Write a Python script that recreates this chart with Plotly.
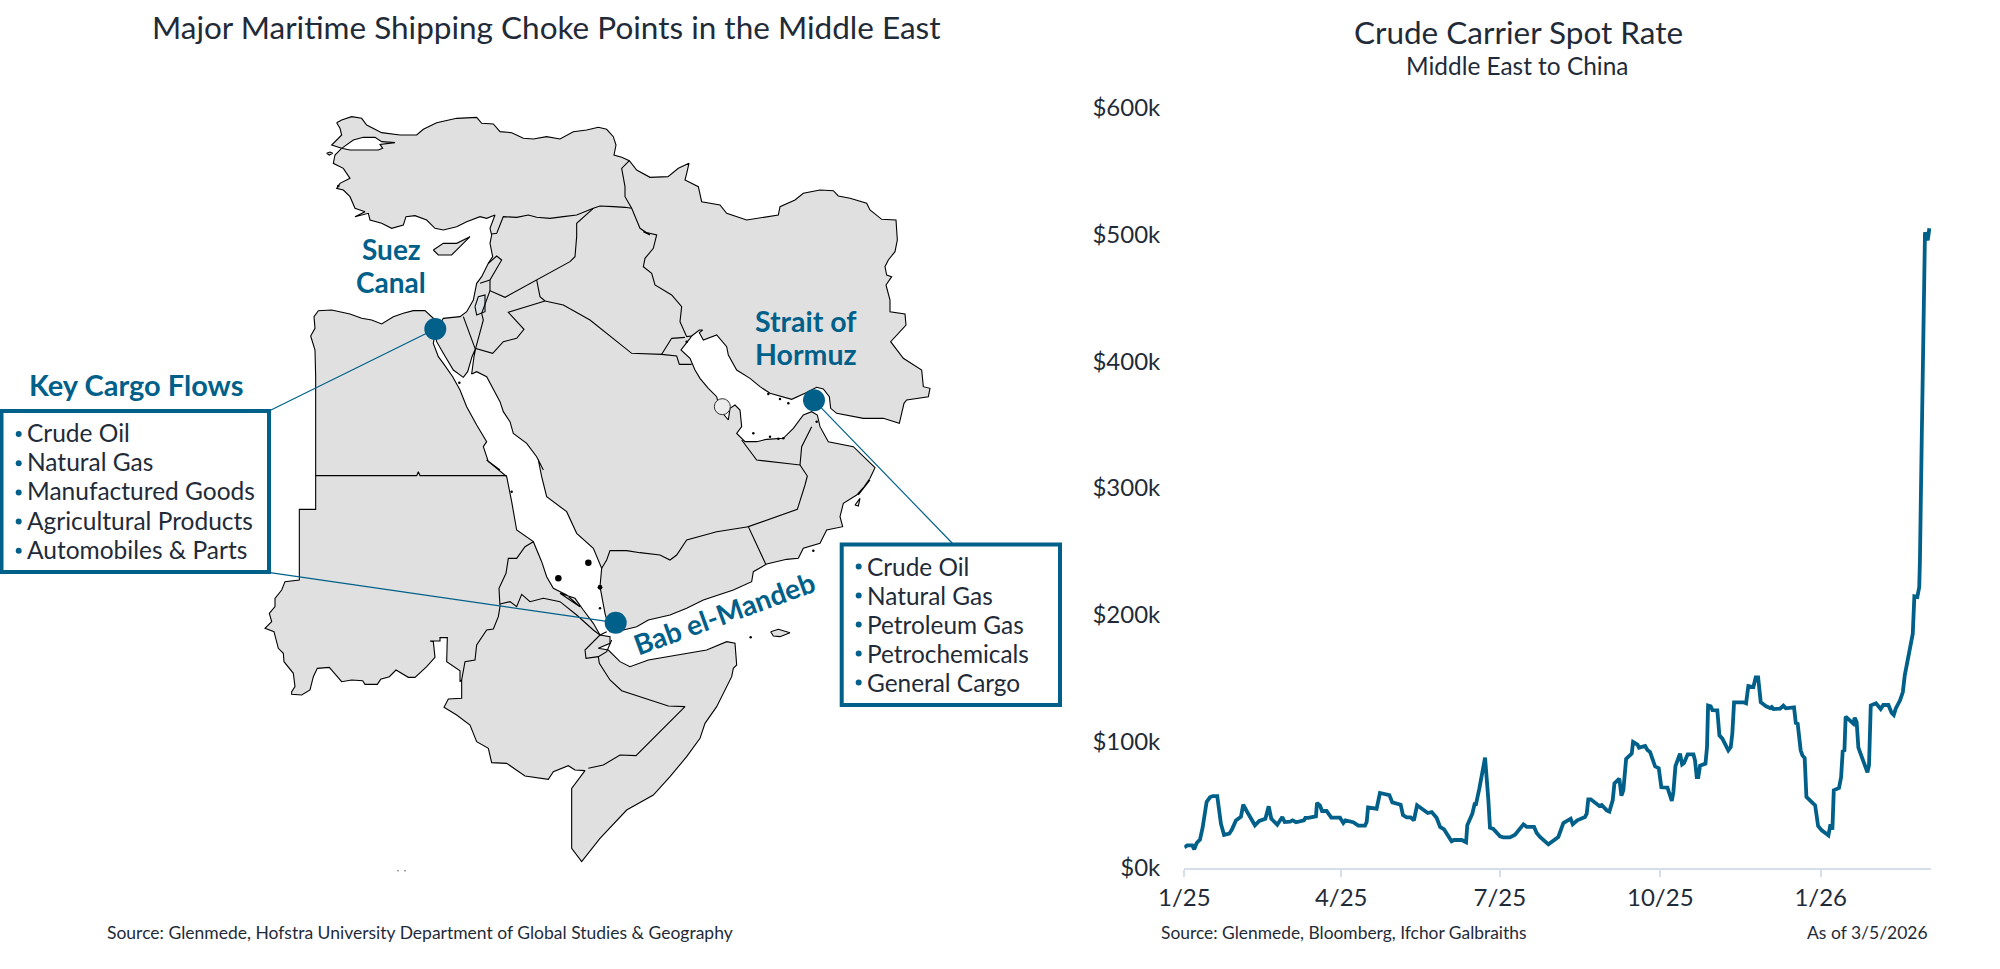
import pandas as pd
import plotly.graph_objects as go

W, H = 2000, 969
TEAL = "#00608a"
INK = "#1f2b38"
LAND = "#e0e0e0"
FONT = "Lato"

# spot rate: days since 1/1/2025 and $ thousands
RATE_DAYS = [
    0, 1.7, 4.6, 5.7, 7.1, 9, 10.5, 11.9, 12.8, 14.7, 16.3, 18.9, 20.1, 21, 22.8, 25.8, 27.3, 29.6, 32.5, 33.8,
    36.1, 40.5, 43, 46.5, 48.4, 49.9, 53.3, 56.2, 57.6, 60.6, 62.1, 64.1, 68.6, 69.4, 71.1, 75.5, 76.1, 77.8,
    79, 81.6, 84.3, 89.3, 91.2, 92.4, 96.9, 99.8, 103.6, 104.6, 105.4, 110.3, 112.2, 115.1, 117.6, 119.3,
    124.1, 125.4, 127.5, 129.8, 131.7, 133.5, 138, 139.6, 141.9, 144.7, 146.7, 149, 153.3, 154.7, 159.1,
    161.6, 162.3, 165.2, 166.5, 167.3, 169.2, 172.5, 174.4, 175.3, 177.2, 181.1, 182.9, 186.8, 189.7, 194.5,
    196.4, 200.6, 202.1, 204, 208.8, 212.6, 214.5, 217.4, 220.8, 221.6, 222.8, 225.4, 229.8, 230.8, 231.7,
    233.1, 238.1, 239.4, 242.3, 243.8, 245.7, 246.7, 249.5, 250.7, 251.8, 253.4, 256.6, 257.4, 259.9, 260.8,
    264.3, 265.6, 267.1, 270, 272.1, 273.6, 277.1, 279.6, 280.5, 281.7, 284.3, 285.5, 286.6, 288.7, 292,
    292.9, 293.9, 294.8, 295.8, 298.9, 299.8, 300.4, 301.9, 302.9, 305.7, 306.9, 308.6, 312, 313.4, 314.3,
    315.3, 320.7, 322.2, 323.5, 326.4, 327.7, 329.1, 330.6, 333.7, 336, 336.9, 337.9, 341.7, 343.6, 345,
    349.7, 350.7, 351.8, 353.5, 354.5, 355.8, 356.8, 361.8, 363.5, 365.6, 369.4, 370.6, 371.7, 372.5, 375.5,
    376.7, 377.6, 378.6, 379.3, 383.7, 384.5, 385.6, 386.6, 391.8, 392.7, 393.7, 396.7, 399.4, 400.9, 403.8,
    405.7, 406.9, 408, 410.5, 412.1, 413.2, 414.9, 417.8, 418.7, 420.4, 421.5, 421.9, 422.9, 424.2, 424.8,
    426.4, 427.3,
]
RATE_K = [
    16.3, 17.9, 17.9, 14.7, 19.7, 22.4, 31.8, 42.9, 52.1, 55.8, 56.8, 56.8, 42.9, 35, 26.1, 27.1, 30.3, 37.6, 40.5, 50,
    44.2, 33.7, 37.1, 38.9, 48.7, 38.9, 34.2, 40.3, 36.3, 36.6, 37.6, 36.1, 37.6, 39.5, 39.5, 40.8, 51.3, 49.5,
    45, 45, 39.7, 39.7, 35.5, 37.6, 36.1, 33.4, 33.4, 36.3, 47.9, 46.8, 59.2, 58.2, 57.6, 51.8,
    50, 41.8, 40, 40, 37.6, 49.5, 44.7, 43.4, 44.2, 39.7, 32.4, 30.5, 21.1, 22.1, 22.1,
    20.3, 33.7, 42.9, 50.5, 50.5, 62.6, 87.1, 53.4, 31.8, 30.8, 25, 24.2, 24.2, 26.3, 34.5,
    32.4, 32.4, 27.6, 24.5, 18.7, 23.2, 24.5, 35.5, 38.2, 38.9, 34.5, 37.6, 40.3, 42.9, 54.2,
    54.2, 48.9, 49.7, 45.5, 44.5, 53.4, 66.8, 70.5, 57.1, 61.3, 86.1, 90.3, 99.5, 97.4, 95,
    96.3, 93.2, 91.6, 80.3, 78.7, 63.7, 63.4, 52.9, 60, 80.5, 90.3, 81.8, 82.9, 89.7, 89.7,
    85, 71.8, 71.8, 80.8, 82.4, 95.5, 128.2, 127.6, 124.7, 124.5, 104.7, 102.1, 92.9, 95.5, 106.1,
    130.8, 130.8, 130, 143.7, 142.9, 150.5, 150.5, 130.8, 127.6, 126.3, 127.1, 125.5, 125.8, 128.2, 126.1,
    126.8, 114.5, 113.9, 92.9, 88.9, 86.8, 56.1, 49.5, 33.2, 29.7, 25.8, 34.5, 30.3, 61.3, 63.2,
    71.8, 92.1, 92.9, 119.5, 113.9, 118.7, 115.3, 95, 75.5, 81.1, 128.2, 130, 125.5, 128.7, 128.7,
    122.4, 120.8, 125.8, 132.4, 138.9, 152.1, 163.9, 185, 214.5, 214, 221.8, 242.9, 335, 440, 501.9,
    495.5, 505,
]
Y_TICKS = [0, 100000, 200000, 300000, 400000, 500000, 600000]
Y_LABELS = ["$0k", "$100k", "$200k", "$300k", "$400k", "$500k", "$600k"]
X_TICKS = ["2025-01-01", "2025-04-01", "2025-07-01", "2025-10-01", "2026-01-01"]
X_LABELS = ["1/25", "4/25", "7/25", "10/25", "1/26"]

CARGO_LEFT = ["Crude Oil", "Natural Gas", "Manufactured Goods", "Agricultural Products", "Automobiles & Parts"]
CARGO_RIGHT = ["Crude Oil", "Natural Gas", "Petroleum Gas", "Petrochemicals", "General Cargo"]

CHOKE_X = [435.3, 814, 615.7]
CHOKE_Y = [329, 400.3, 622.7]


# map outlines were traced at 3x from four windows of the picture
def nw(pts):
    return [(300 + x / 3, 100 + y / 3) for x, y in pts]


def ne(pts):
    return [(620 + x / 3, 170 + y / 3) for x, y in pts]


def sw(pts):
    return [(260 + x / 3, 460 + y / 3) for x, y in pts]


def se(pts):
    return [(560 + x / 3, 480 + y / 3) for x, y in pts]


ASIA = (
    nw([(110, 68), (125, 60), (155, 50), (185, 55), (200, 75), (245, 98), (300, 105), (350, 105), (370, 88), (410, 68),
        (470, 55), (530, 52), (545, 70), (580, 72), (600, 95), (635, 98), (670, 115), (700, 117), (740, 110), (780, 117),
        (820, 95), (860, 90), (895, 82), (920, 88), (940, 110), (948, 135), (942, 165), (965, 172), (988, 182),
        (1010, 210), (1050, 232)])
    + ne([(144, 20), (175, -5), (207, -20), (200, 10), (195, 30), (235, 50), (245, 95), (300, 105), (320, 130),
          (380, 150), (475, 135), (480, 110), (525, 90), (550, 70), (600, 60), (640, 62), (655, 78), (690, 85), (740, 100),
          (750, 120), (785, 148), (828, 150), (832, 210), (825, 245), (805, 270), (795, 290), (800, 315), (815, 320),
          (798, 345), (810, 390), (810, 425), (855, 432), (858, 465), (812, 515), (850, 565), (905, 600), (910, 650),
          (930, 655), (925, 680), (860, 690), (852, 700), (838, 760), (790, 745), (730, 745), (650, 730), (632, 715),
          (628, 680), (610, 657), (590, 652), (555, 670), (515, 688), (450, 670), (420, 650), (390, 625), (350, 600),
          (325, 555), (320, 530), (290, 495), (250, 510), (238, 488), (248, 480), (238, 480), (215, 498), (210, 505),
          (190, 530), (183, 540), (210, 565), (225, 600), (240, 625), (265, 655), (290, 680), (300, 720), (325, 750),
          (330, 715), (345, 705), (360, 720), (365, 770), (350, 790), (375, 815), (410, 815), (440, 808), (490, 805),
          (520, 775), (550, 735), (575, 725), (592, 735), (600, 770), (625, 815), (700, 830), (765, 893), (750, 925),
          (715, 975)])
    + se([(930, 0), (890, 45), (850, 70), (840, 110), (848, 140), (800, 150), (780, 190), (730, 205), (715, 235),
          (680, 238), (620, 252), (580, 275), (575, 305), (520, 330), (430, 360), (380, 385), (330, 405), (265, 420),
          (230, 440), (190, 450), (150, 455)])
    + sw([(1035, 460), (1020, 380), (1025, 325), (1000, 265), (950, 220), (920, 155), (860, 110), (845, 50), (835, 0)])
    + nw([(730, 1110), (710, 1070), (680, 1030), (640, 1000), (630, 965), (610, 935), (600, 905), (560, 830), (530, 815),
          (515, 822), (522, 770), (527, 745), (516, 770), (503, 815), (490, 832), (460, 810), (430, 760), (410, 725),
          (405, 700), (430, 655), (480, 650), (500, 635), (520, 600), (530, 550), (545, 530), (565, 490), (578, 470),
          (570, 430), (575, 405), (570, 385), (585, 345), (560, 355), (540, 350), (500, 365), (470, 380), (430, 390),
          (405, 385), (380, 360), (345, 347), (318, 350), (310, 375), (275, 385), (245, 370), (210, 360), (205, 340),
          (165, 350), (195, 335), (165, 325), (150, 290), (130, 270), (110, 265), (120, 250), (150, 235), (130, 205),
          (100, 190), (105, 165), (125, 145), (95, 135), (125, 105), (120, 85), (110, 68)])
)
AFRICA = (
    nw([(405, 700), (400, 655), (375, 632), (340, 632), (310, 640), (280, 650), (245, 672), (215, 660), (185, 655),
        (150, 642), (95, 630), (55, 632), (42, 650), (45, 685), (32, 708), (45, 750), (47, 830), (47, 1110)])
    + sw([(167, 148), (118, 148), (118, 360), (75, 365), (65, 390), (45, 415), (45, 440), (28, 460), (35, 485), (15, 505),
          (42, 515), (55, 565), (70, 580), (72, 605), (100, 640), (105, 680), (95, 695), (95, 703), (125, 705), (150, 690),
          (160, 650), (172, 625), (208, 622), (245, 665), (275, 660), (308, 662), (315, 673), (352, 673), (362, 658),
          (388, 650), (408, 630), (445, 652), (465, 652), (500, 620), (525, 592), (520, 545), (510, 543), (540, 543),
          (540, 533), (562, 533), (560, 605), (600, 632), (600, 665), (605, 660), (605, 715), (565, 717), (552, 742),
          (590, 765), (630, 795), (650, 845), (685, 865), (695, 908), (740, 910), (795, 948), (865, 958), (880, 935),
          (925, 917), (945, 930), (975, 932)])
    + se([(35, 925), (35, 1105), (65, 1145), (120, 1075), (200, 990), (280, 945), (330, 890), (380, 830), (420, 775),
          (435, 730), (470, 680), (490, 640), (515, 590), (520, 565), (530, 555), (525, 490), (500, 485), (440, 510),
          (380, 520), (330, 530), (265, 540), (210, 560), (180, 545), (145, 510), (115, 505), (150, 490), (150, 470),
          (120, 465), (100, 430), (70, 390), (45, 355), (0, 340)])
    + sw([(960, 440), (920, 405), (880, 385), (860, 350), (845, 305), (820, 245), (770, 210), (755, 125), (740, 50),
          (680, 0)])
    + nw([(600, 1110), (565, 1085), (550, 1040), (560, 1025), (530, 975), (500, 920), (480, 870), (458, 830), (430, 790),
          (415, 770), (400, 730), (405, 700)])
)
MARMARA = nw([(125, 145), (160, 120), (190, 112), (225, 112), (245, 125), (285, 128), (240, 133), (248, 145), (235, 150),
              (190, 150), (150, 150), (125, 145)])
CYPRUS = nw([(400, 450), (430, 430), (470, 430), (510, 410), (480, 440), (455, 465), (415, 465), (400, 450)])
WEST_BANK = nw([(525, 620), (535, 590), (555, 585), (555, 635), (530, 645), (525, 620)])
GOKCEADA = nw([(80, 160), (90, 156), (98, 160), (88, 165), (80, 160)])
SOCOTRA = se([(632, 455), (655, 448), (690, 458), (660, 470), (640, 468), (632, 455)])
MASIRAH = se([(885, 75), (900, 55), (895, 78), (885, 75)])

BORDERS = [
    nw([(988, 182), (965, 205), (975, 260), (975, 290), (995, 325), (1020, 385), (1050, 405)])
    + ne([(70, 185), (110, 195), (100, 235), (75, 265), (70, 290), (95, 310), (105, 345), (155, 375), (185, 410),
          (180, 455), (200, 500), (215, 498)]),
    nw([(995, 325), (975, 322), (940, 320), (900, 318), (880, 325), (830, 345), (790, 350), (750, 355), (710, 352),
        (685, 345), (650, 352), (610, 350), (600, 375), (590, 400), (575, 402)]),
    nw([(880, 325), (830, 370), (830, 410), (825, 470), (810, 485), (615, 592), (570, 572), (570, 540), (605, 480),
        (590, 468), (565, 490)]),
    nw([(570, 540), (540, 550)]),
    nw([(570, 572), (545, 640), (550, 660), (527, 745)]),
    nw([(490, 650), (525, 745), (578, 760), (610, 725), (650, 715), (672, 688), (625, 637), (735, 603), (720, 590),
        (710, 540)]),
    nw([(735, 603), (790, 615), (870, 660), (995, 760)])
    + ne([(125, 553), (170, 558), (178, 583), (215, 583)]),
    ne([(125, 553), (155, 505), (195, 502)]),
    ne([(365, 810), (410, 870), (540, 885), (545, 830), (560, 800), (575, 770)]),
    ne([(540, 885), (562, 918)]) + se([(735, 15), (712, 88), (565, 140), (617, 252)]),
    se([(565, 140), (470, 155), (380, 180), (350, 225), (330, 240), (300, 225), (240, 218), (200, 212), (150, 212),
        (140, 240), (125, 265)]),
    sw([(167, 47), (470, 47), (475, 35), (480, 47), (740, 47)]),
    sw([(820, 245), (795, 260), (770, 295), (745, 295), (738, 340), (717, 385), (720, 440), (715, 470), (700, 507),
        (680, 510), (650, 555), (645, 600), (615, 605), (605, 660)]),
    sw([(720, 432), (750, 425), (770, 440), (785, 403), (810, 425), (850, 415), (900, 425), (950, 465), (1000, 510),
        (1020, 525), (975, 570), (978, 595), (1015, 590), (1040, 575), (1055, 540)]),
    sw([(1020, 525), (1040, 515)]),
    sw([(1015, 590), (1018, 610)])
    + se([(150, 600), (185, 632), (325, 678), (375, 680), (228, 827), (180, 825), (130, 855), (85, 865)]),
]
ISLETS_LARGE = se([(85, 248)]) + sw([(895, 355)])
ISLETS_MEDIUM = se([(120, 322)]) + sw([(1020, 382)])
ISLETS_SMALL = (
    se([(120, 385), (572, 472), (760, 212)])
    + sw([(755, 95)])
    + ne([(445, 672), (480, 687), (505, 700), (400, 790), (450, 800), (475, 806), (490, 805), (590, 755), (200, 515)])
    + nw([(478, 848), (115, 258)])
)
SPECKS = [(398, 870.7), (405, 870.7)]

BAHRAIN = ne([(307, 710)])

# callout leaders: box corner or edge to the choke point
LEADERS = [
    ([269, CHOKE_X[0]], [411, CHOKE_Y[0]]),
    ([954, CHOKE_X[1]], [545, CHOKE_Y[1]]),
    ([270, CHOKE_X[2]], [572.7, CHOKE_Y[2]]),
]

fig = go.Figure()


def outline(pts, fill=None, width=1.1, color="black"):
    xs = [p[0] for p in pts]
    ys = [p[1] for p in pts]
    fig.add_trace(go.Scatter(
        x=xs, y=ys, mode="lines", xaxis="x2", yaxis="y2", hoverinfo="skip", showlegend=False,
        line=dict(color=color, width=width), fill="toself" if fill else None, fillcolor=fill,
    ))


def dots(pts, size, color, edge=None):
    fig.add_trace(go.Scatter(
        x=[p[0] for p in pts], y=[p[1] for p in pts], mode="markers", xaxis="x2", yaxis="y2",
        marker=dict(color=color, size=size, line=dict(color=edge or color, width=1 if edge else 0)),
        hoverinfo="skip", showlegend=False,
    ))


outline(ASIA + ASIA[:1], LAND)
outline(AFRICA, LAND)
outline(MARMARA, "white")
outline(CYPRUS, LAND)
outline(GOKCEADA, LAND)
outline(SOCOTRA, LAND)
outline(MASIRAH, LAND)
outline(WEST_BANK, "#dbe3e8")
for border in BORDERS:
    outline(border)

dots(ISLETS_LARGE, 6.5, "black")
dots(ISLETS_MEDIUM, 4.5, "black")
dots(ISLETS_SMALL, 2.5, "black")
dots(SPECKS, 1.5, "#555555")
dots(BAHRAIN, 16, "#ececec", "#333333")
for lx, ly in LEADERS:
    outline(list(zip(lx, ly)), width=1.2, color=TEAL)
dots(list(zip(CHOKE_X, CHOKE_Y)), 22, TEAL)

rate_dates = pd.Timestamp("2025-01-01") + pd.to_timedelta(RATE_DAYS, unit="D")
fig.add_trace(go.Scatter(
    x=rate_dates, y=[v * 1000 for v in RATE_K], mode="lines", showlegend=False,
    line=dict(color=TEAL, width=3.8),
))


def note(x, y, text, size, color=INK, anchor="center", bold=False, angle=0):
    fig.add_annotation(
        x=x, y=y, xref="x2", yref="y2", text=f"<b>{text}</b>" if bold else text, showarrow=False,
        xanchor=anchor, yanchor="middle", textangle=angle, font=dict(family=FONT, size=size, color=color),
    )


note(546.6, 27, "Major Maritime Shipping Choke Points in the Middle East", 31.5)
note(1518, 32, "Crude Carrier Spot Rate", 31.5)
note(1516.5, 65, "Middle East to China", 24.4)
note(104.5, 932, "Source: Glenmede, Hofstra University Department of Global Studies &amp; Geography", 17.5, anchor="left")
note(1159, 932, "Source: Glenmede, Bloomberg, Ifchor Galbraiths", 17.4, anchor="left")
note(1930, 932, "As of 3/5/2026", 17.5, anchor="right")

note(135.7, 384, "Key Cargo Flows", 29, TEAL, bold=True)
note(391, 249, "Suez", 28, TEAL, bold=True)
note(391, 282, "Canal", 28, TEAL, bold=True)
note(806, 321, "Strait of", 28.5, TEAL, bold=True)
note(806, 354, "Hormuz", 28.5, TEAL, bold=True)
note(724, 613, "Bab el-Mandeb", 28, TEAL, bold=True, angle=-20)

for i, item in enumerate(CARGO_LEFT):
    note(24.5, 432.5 + i * 29.2, item.replace("&", "&amp;"), 24.5, anchor="left")
for i, item in enumerate(CARGO_RIGHT):
    note(864.5, 566 + i * 29, item, 24.4, anchor="left")
dots([(18.7, 434 + i * 29.2) for i in range(len(CARGO_LEFT))], 6, TEAL)
dots([(858.7, 566.5 + i * 29) for i in range(len(CARGO_RIGHT))], 6, TEAL)

for x0, y0, x1, y1 in [(1.5, 411, 269, 572), (841.7, 544.5, 1060, 705)]:
    fig.add_shape(type="rect", xref="x2", yref="y2", x0=x0, y0=y0, x1=x1, y1=y1, line=dict(color=TEAL, width=4))

fig.update_layout(
    width=W, height=H, margin=dict(l=0, r=0, t=0, b=0, autoexpand=False), paper_bgcolor="white",
    plot_bgcolor="rgba(0,0,0,0)", font=dict(family=FONT, color=INK), showlegend=False,
    xaxis=dict(
        domain=[1184.3 / W, 1931 / W], range=["2025-01-01", "2026-03-05 06:00"], type="date", anchor="y", automargin=False,
        tickvals=X_TICKS, ticktext=X_LABELS, tickfont=dict(size=24, color=INK), showgrid=False, zeroline=False,
        showline=True, linecolor="#d6dfe9", linewidth=1.5, ticks="outside", ticklen=7, tickcolor="#d6dfe9", tickwidth=1.5,
    ),
    yaxis=dict(
        domain=[1 - 868 / H, 1 - 108 / H], range=[0, 600000], anchor="x", automargin=False, tickvals=Y_TICKS,
        ticktext=Y_LABELS, tickfont=dict(size=24, color=INK), showgrid=False, zeroline=False, showline=False, ticks="",
        ticklabelstandoff=23,
    ),
    xaxis2=dict(domain=[0, 1], range=[0, W], anchor="y2", visible=False, automargin=False),
    yaxis2=dict(domain=[0, 1], range=[H, 0], anchor="x2", visible=False, automargin=False),
)

fig.write_html("out.html", config={"displayModeBar": False}, post_script="document.body.style.margin='0';")
